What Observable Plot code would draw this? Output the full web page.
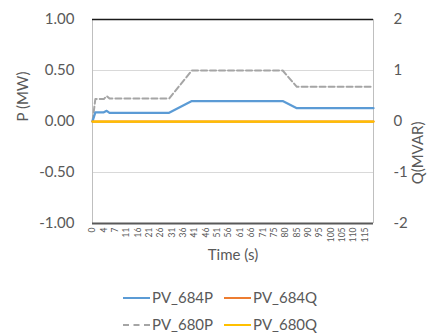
<!DOCTYPE html>
<html>
<head>
<meta charset="utf-8">
<script src="https://cdn.jsdelivr.net/npm/d3@7"></script>
<script src="https://cdn.jsdelivr.net/npm/@observablehq/plot@0.6"></script>
<style>
  html, body { margin: 0; padding: 0; background: #fff; }
  #wrap { position: relative; width: 427px; height: 333px; overflow: hidden; font-family: Lato, sans-serif; color: #595959; }
  #chart svg { display: block; }
  .leg { position: absolute; font-size: 15px; line-height: 15px; white-space: nowrap; }
  .sw { position: absolute; height: 0; width: 27px; }
</style>
</head>
<body>
<div id="wrap">
  <div id="chart"></div>
  <div id="legend"></div>
</div>
<script>
// Category (sample) axis labels, one label every 4th sample
const tickLabels = ["0","4","7","11","16","21","26","31","36","41","46","51","56","61","66","71","75","80","85","90","95","100","105","110","115"];
const sampleCount = 100;

// Series: sample index -> value
const idxP684 = [0, 1, 4, 5, 6, 27, 35, 67, 72, 99];
const valP684 = [0, 0.09, 0.09, 0.105, 0.085, 0.085, 0.2, 0.2, 0.13, 0.13];
const idxP680 = [0, 1, 4, 5, 6, 27, 35, 67, 72, 99];
const valP680 = [0, 0.22, 0.22, 0.25, 0.225, 0.225, 0.5, 0.5, 0.34, 0.34];
const idxQ684 = [0, 99];
const valQ684 = [0, 0];
const idxQ680 = [0, 99];
const valQ680 = [0, 0];

const pTicks = [-1, -0.5, 0, 0.5, 1];
const qTicks = [-2, -1, 0, 1, 2];

const colors = { P684: "#5B9BD5", Q684: "#ED7D31", P680: "#A5A5A5", Q680: "#FFC000" };

const toRows = (idx, val) => idx.map((i, k) => ({ i, v: val[k] }));
const p684 = toRows(idxP684, valP684);
const p680 = toRows(idxP680, valP680);
const q684 = toRows(idxQ684, valQ684);
const q680 = toRows(idxQ680, valQ680);
const tickIdx = tickLabels.map((_, k) => k * 4);

const plot = Plot.plot({
  width: 427,
  height: 280,
  marginTop: 19,
  marginBottom: 57,
  marginLeft: 92,
  marginRight: 54,
  style: { fontFamily: "Lato, sans-serif", fontSize: "15px", color: "#595959", background: "white" },
  x: { type: "linear", domain: [0, sampleCount - 1], axis: null },
  y: { domain: [-1, 1], axis: null },
  marks: [
    Plot.ruleY([-0.5, 0, 0.5], { stroke: "#d9d9d9", strokeWidth: 1 }),
    Plot.ruleX([0, sampleCount - 1], { stroke: "#bfbfbf", strokeWidth: 1 }),
    Plot.ruleY([1], { stroke: "#1a1a1a", strokeWidth: 1.5 }),
    Plot.ruleY([-1], { stroke: "#595959", strokeWidth: 2 }),
    Plot.axisY({ ticks: pTicks, tickFormat: d => d.toFixed(2), tickSize: 0, tickPadding: 18, anchor: "left", label: null, fontSize: 15 }),
    Plot.axisY({ ticks: pTicks, tickFormat: (d, k) => String(qTicks[k]), tickSize: 0, tickPadding: 20, anchor: "right", label: null, fontSize: 15 }),
    Plot.axisX({ ticks: tickIdx, tickFormat: (d, k) => tickLabels[k], tickRotate: -90, tickSize: 0, tickPadding: 4, label: null, fontSize: 8.5 }),
    Plot.line(p680, { x: "i", y: "v", stroke: colors.P680, strokeWidth: 2, strokeDasharray: "6,3" }),
    Plot.line(p684, { x: "i", y: "v", stroke: colors.P684, strokeWidth: 2.25 }),
    Plot.line(q684, { x: "i", y: d => d.v / 2, stroke: colors.Q684, strokeWidth: 2.25 }),
    Plot.line(q680, { x: "i", y: d => d.v / 2, stroke: colors.Q680, strokeWidth: 2.25 }),
    Plot.text(["P (MW)"], { frameAnchor: "left", dx: -69, rotate: -90, fill: "#595959", fontSize: 15 }),
    Plot.text(["Q(MVAR)"], { frameAnchor: "right", dx: 45, rotate: -90, fill: "#595959", fontSize: 15 }),
    Plot.text(["Time (s)"], { frameAnchor: "bottom", dy: 36, fill: "#595959", fontSize: 15 })
  ]
});
document.getElementById("chart").appendChild(plot);

// Legend (HTML below the SVG)
const legendItems = [
  { name: "PV_684P", color: colors.P684, dash: false, x: 123, y: 298 },
  { name: "PV_684Q", color: colors.Q684, dash: false, x: 224, y: 298 },
  { name: "PV_680P", color: colors.P680, dash: true,  x: 123, y: 325 },
  { name: "PV_680Q", color: colors.Q680, dash: false, x: 224, y: 325 }
];
const leg = document.getElementById("legend");
for (const it of legendItems) {
  const sw = document.createElement("div");
  sw.className = "sw";
  sw.style.left = it.x + "px";
  sw.style.top = (it.y - 1) + "px";
  sw.style.borderTop = "2.25px " + (it.dash ? "dashed " : "solid ") + it.color;
  leg.appendChild(sw);
  const t = document.createElement("div");
  t.className = "leg";
  t.style.left = (it.x + 29) + "px";
  t.style.top = (it.y - 8) + "px";
  t.textContent = it.name;
  leg.appendChild(t);
}
</script>
</body>
</html>
